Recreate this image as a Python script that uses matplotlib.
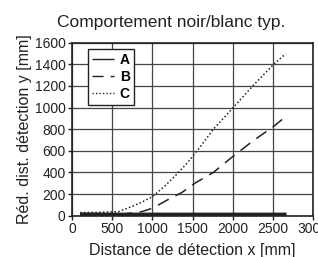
import matplotlib
matplotlib.use("Agg")
import matplotlib.pyplot as plt

plt.rcParams['font.family'] = ['Liberation Sans', 'DejaVu Sans']

# Data
xA = [100, 500, 1000, 1500, 2000, 2500, 2670]
yA = [12, 10, 10, 10, 10, 10, 10]

xB = [100, 400, 660, 870, 1000, 1200, 1370, 1530, 1760, 2000, 2250, 2500, 2650]
yB = [15, 15, 16, 37, 68, 150, 215, 300, 400, 546, 690, 820, 910]

xC = [100, 300, 580, 740, 870, 1000, 1150, 1300, 1450, 1600, 1760, 2000, 2250, 2510, 2660]
yC = [28, 30, 37, 83, 125, 175, 270, 380, 500, 640, 800, 994, 1200, 1400, 1497]

labels = ['A', 'B', 'C']
xticks = [0, 500, 1000, 1500, 2000, 2500, 3000]
yticks = [0, 200, 400, 600, 800, 1000, 1200, 1400, 1600]

fig = plt.figure(figsize=(3.18, 2.57), dpi=100)
ax = fig.add_axes([0.2264, 0.161, 0.758, 0.673])

ax.plot(xA, yA, color='#222222', lw=2.8, ls='-', label=labels[0], solid_capstyle='butt')
ax.plot(xB, yB, color='#222222', lw=1.1, ls=(0, (8, 5)), label=labels[1])
ax.plot(xC, yC, color='#222222', lw=1.1, ls=(0, (1, 1.5)), label=labels[2])

ax.set_xlim(0, 3000)
ax.set_ylim(0, 1600)
ax.set_xticks(xticks)
ax.set_yticks(yticks)
ax.tick_params(length=3, width=1, pad=1.5, labelsize=10, colors='#222222')
ax.grid(True, color='#444444', lw=0.9)
ax.set_axisbelow(True)
for s in ax.spines.values():
    s.set_color('#222222')
    s.set_linewidth(1.2)

fig.text(0.538, 0.895, 'Comportement noir/blanc typ.', fontsize=12.5, color='#222222',
         ha='center', va='baseline')
ax.set_xlabel('Distance de détection x [mm]', fontsize=11.5, color='#222222', labelpad=5)
ax.set_ylabel('Réd. dist. détection y [mm]', fontsize=11.5, color='#222222', labelpad=2)

leg = ax.legend(loc='upper left', bbox_to_anchor=(0.066, 0.964), borderaxespad=0,
                fancybox=False, framealpha=1, edgecolor='#222222',
                prop={'weight': 'bold', 'size': 10}, handlelength=1.6,
                labelspacing=0.2, handletextpad=0.4, borderpad=0.3)
leg.get_frame().set_linewidth(1.0)
for h in leg.get_lines():
    h.set_linewidth(1.0)

fig.savefig('out.png', dpi=100)
